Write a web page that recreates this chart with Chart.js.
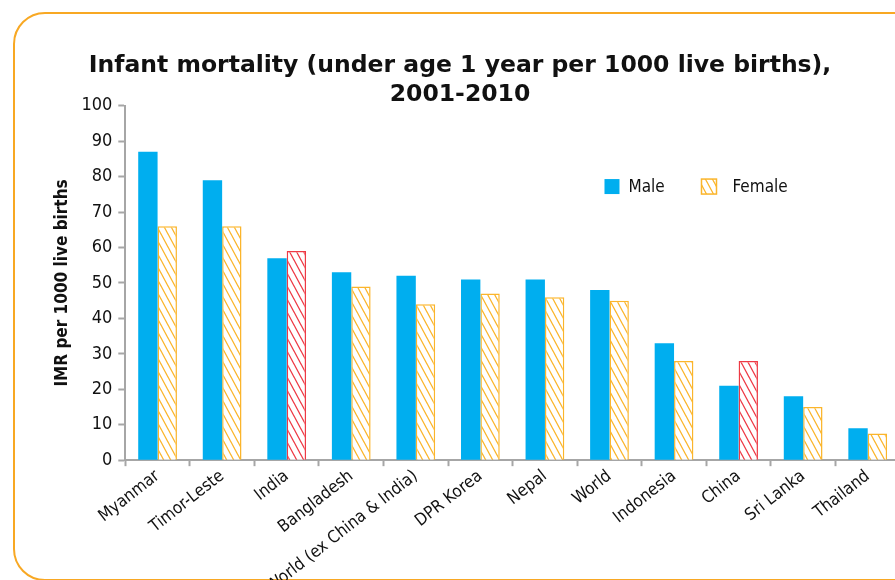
<!DOCTYPE html>
<html>
<head>
<meta charset="utf-8">
<script src="https://cdn.jsdelivr.net/npm/chart.js@4.4.1/dist/chart.umd.min.js"></script>
<style>
  html, body { margin: 0; padding: 0; background: #fff; overflow: hidden; width: 895px; height: 580px; }
  #frame { position: absolute; left: 13px; top: 12px; width: 1000px; height: 569px; border: 2px solid #F8A823; border-radius: 32px; box-sizing: border-box; }
  #wrap { position: absolute; left: 0; top: 0; width: 912px; height: 603px; }
</style>
</head>
<body>
<div id="frame"></div>
<div id="wrap"><canvas id="c"></canvas></div>
<script>
const categories = ["Myanmar", "Timor-Leste", "India", "Bangladesh", "World (ex China & India)", "DPR Korea", "Nepal", "World", "Indonesia", "China", "Sri Lanka", "Thailand"];
const maleValues = [87, 79, 57, 53, 52, 51, 51, 48, 33, 21, 18, 9];
const femaleValues = [66, 66, 59, 49, 44, 47, 46, 45, 28, 28, 15, 7.5];
const highlightedCategories = ["India", "China"];
const yTicks = [0, 10, 20, 30, 40, 50, 60, 70, 80, 90, 100];
const titleLines = ['Infant mortality (under age 1 year per 1000 live births),', '2001-2010'];

const BLUE = '#00AEEF';
const ORANGE = '#FBB52B';
const RED = '#EE3A45';
const NARROW = '"Liberation Sans Narrow", "DejaVu Sans Condensed", "Liberation Sans", Arial, sans-serif';
const TITLE_FONT = 'bold 23.5px "DejaVu Sans", Verdana, sans-serif';

function hatch(color) {
  const w = 7, h = 13;
  const p = document.createElement('canvas');
  p.width = w; p.height = h;
  const g = p.getContext('2d');
  g.fillStyle = '#fff';
  g.fillRect(0, 0, w, h);
  g.strokeStyle = color;
  g.lineWidth = 1.3;
  g.beginPath();
  for (let k = -1; k <= 1; k++) {
    g.moveTo(k * w - w, -h); g.lineTo(k * w + 2 * w, 2 * h);
  }
  g.stroke();
  return g.createPattern(p, 'repeat');
}
const orangeHatch = hatch(ORANGE);
const redHatch = hatch(RED);

const femaleFill = categories.map(c => highlightedCategories.includes(c) ? redHatch : orangeHatch);
const femaleBorder = categories.map(c => highlightedCategories.includes(c) ? RED : ORANGE);

const decorPlugin = {
  id: 'decor',
  afterDraw(chart) {
    const ctx = chart.ctx;
    ctx.save();
    // title
    ctx.font = TITLE_FONT;
    ctx.fillStyle = '#111';
    ctx.textAlign = 'center';
    ctx.textBaseline = 'alphabetic';
    titleLines.forEach((t, i) => ctx.fillText(t, 460, 72 + 29 * i));
    // legend
    ctx.textAlign = 'left';
    const x0 = chart.scales.x.getPixelForValue(7) - 5;
    const yc = chart.scales.y.getPixelForValue(77.2);
    ctx.fillStyle = BLUE;
    ctx.fillRect(x0, yc - 7.5, 15, 15);
    ctx.font = '17px ' + NARROW;
    ctx.fillStyle = '#111';
    ctx.textBaseline = 'middle';
    ctx.fillText('Male', x0 + 24, yc + 1);
    const fx = x0 + 97;
    ctx.fillStyle = orangeHatch;
    ctx.fillRect(fx, yc - 7.5, 15, 15);
    ctx.strokeStyle = ORANGE;
    ctx.lineWidth = 1.5;
    ctx.strokeRect(fx, yc - 7.5, 15, 15);
    ctx.fillStyle = '#111';
    ctx.fillText('Female', fx + 31, yc + 1);
    ctx.restore();
  }
};

new Chart(document.getElementById('c'), {
  type: 'bar',
  data: {
    labels: categories,
    datasets: [
      { label: 'Male', data: maleValues, backgroundColor: BLUE, borderWidth: 0 },
      { label: 'Female', data: femaleValues, backgroundColor: femaleFill, borderColor: femaleBorder, borderWidth: 1.5, borderSkipped: 'start' }
    ]
  },
  options: {
    responsive: true,
    maintainAspectRatio: false,
    animation: false,
    datasets: { bar: { categoryPercentage: 0.6, barPercentage: 1.0 } },
    layout: { padding: { left: 52, right: 12, top: 0, bottom: 6 } },
    plugins: {
      legend: { display: false },
      tooltip: { enabled: false },
      title: {
        display: true,
        text: titleLines,
        font: { family: '"DejaVu Sans", Verdana, sans-serif', size: 23.5, weight: 'bold', lineHeight: 1.25 },
        color: 'rgba(0,0,0,0)',
        padding: { top: 47, bottom: 0 }
      }
    },
    scales: {
      x: {
        grid: { display: true, drawOnChartArea: false, drawTicks: true, tickLength: 6, tickWidth: 2, color: '#A6A6A6', offset: true },
        border: { display: true, color: '#A6A6A6', width: 2 },
        ticks: { color: '#111', font: { family: NARROW, size: 17 }, maxRotation: 38, minRotation: 38, autoSkip: false, padding: 0 }
      },
      y: {
        min: 0, max: 100,
        afterBuildTicks(axis) { axis.ticks = yTicks.map(v => ({ value: v })); },
        grid: { display: true, drawOnChartArea: false, drawTicks: true, tickLength: 7, tickWidth: 2, color: '#A6A6A6' },
        border: { display: true, color: '#A6A6A6', width: 2 },
        ticks: { color: '#111', font: { family: NARROW, size: 18 }, padding: 6 },
        title: { display: true, text: 'IMR per 1000 live births', color: '#111', font: { family: NARROW, size: 17, weight: 'bold' }, padding: { top: 0, bottom: 3 } }
      }
    }
  },
  plugins: [decorPlugin]
});
</script>
</body>
</html>
